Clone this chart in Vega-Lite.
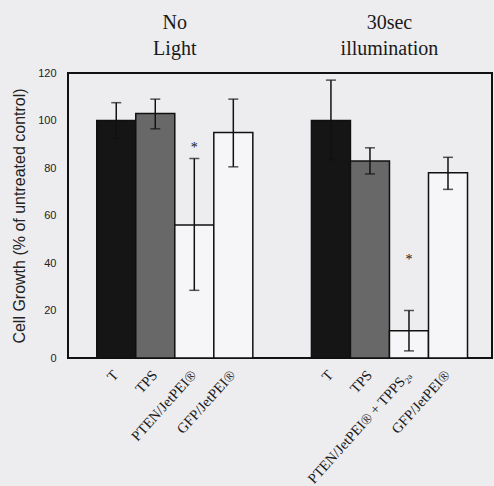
{
  "$schema": "https://vega.github.io/schema/vega-lite/v6.json",
  "width": 424,
  "height": 285,
  "autosize": {"type": "none"},
  "padding": {"left": 68, "top": 73, "right": 2, "bottom": 128},
  "background": "#ededf0",
  "data": {
    "values": [
      {"group": "No Light", "bar": "T", "label": "T", "value": 100, "lo": 92.5, "hi": 107.5, "star": null},
      {"group": "No Light", "bar": "TPS", "label": "TPS", "value": 103, "lo": 96.5, "hi": 109, "star": null},
      {"group": "No Light", "bar": "PTEN", "label": "PTEN/JetPEI®", "value": 56, "lo": 28.5, "hi": 84, "star": 90},
      {"group": "No Light", "bar": "GFP", "label": "GFP/JetPEI®", "value": 95, "lo": 80.5, "hi": 109, "star": null},
      {"group": "30sec illumination", "bar": "T", "label": "T", "value": 100, "lo": 83.5, "hi": 117, "star": null},
      {"group": "30sec illumination", "bar": "TPS", "label": "TPS", "value": 83, "lo": 77.5, "hi": 88.5, "star": null},
      {"group": "30sec illumination", "bar": "PTEN", "label": "PTEN/JetPEI® + TPPS₂ₐ", "value": 11.5, "lo": 3, "hi": 20, "star": 43},
      {"group": "30sec illumination", "bar": "GFP", "label": "GFP/JetPEI®", "value": 78, "lo": 71, "hi": 84.5, "star": null}
    ]
  },
  "encoding": {
    "x": {
      "field": "group",
      "type": "nominal",
      "sort": ["No Light", "30sec illumination"],
      "scale": {"type": "band", "paddingInner": 0.273, "paddingOuter": 0.124, "align": 0.54},
      "axis": {
        "orient": "top",
        "title": null,
        "domain": false,
        "ticks": false,
        "labelAngle": 0,
        "labelFont": "Liberation Serif",
        "labelFontSize": 20,
        "labelColor": "#1a1a1a",
        "labelLineHeight": 26,
        "labelPadding": 41,
        "labelExpr": "datum.label == 'No Light' ? ['No', 'Light'] : ['30sec', 'illumination']"
      }
    },
    "xOffset": {
      "field": "bar",
      "type": "nominal",
      "sort": ["T", "TPS", "PTEN", "GFP"],
      "scale": {"paddingInner": 0, "paddingOuter": 0}
    }
  },
  "layer": [
    {
      "mark": {"type": "bar", "stroke": "#111", "strokeWidth": 1.5},
      "encoding": {
        "y": {
          "field": "value",
          "type": "quantitative",
          "scale": {"domain": [0, 120], "nice": false},
          "axis": {
            "values": [0, 20, 40, 60, 80, 100, 120],
            "grid": false,
            "domain": false,
            "ticks": false,
            "labelFont": "Liberation Sans",
            "labelFontSize": 11,
            "labelColor": "#222",
            "labelPadding": 12,
            "title": "Cell Growth (% of untreated control)",
            "titleFont": "Liberation Sans",
            "titleFontSize": 16,
            "titleFontWeight": "normal",
            "titleColor": "#222",
            "titlePadding": 10
          }
        },
        "color": {
          "field": "bar",
          "type": "nominal",
          "scale": {"domain": ["T", "TPS", "PTEN", "GFP"], "range": ["#151515", "#686868", "#f6f6f8", "#f6f6f8"]},
          "legend": null
        }
      }
    },
    {
      "mark": {"type": "rule", "color": "#111", "strokeWidth": 1.5},
      "encoding": {
        "y": {"field": "lo", "type": "quantitative"},
        "y2": {"field": "hi"}
      }
    },
    {
      "mark": {"type": "tick", "color": "#111", "size": 10, "thickness": 1.5, "orient": "horizontal"},
      "encoding": {"y": {"field": "lo", "type": "quantitative"}}
    },
    {
      "mark": {"type": "tick", "color": "#111", "size": 10, "thickness": 1.5, "orient": "horizontal"},
      "encoding": {"y": {"field": "hi", "type": "quantitative"}}
    },
    {
      "transform": [{"filter": "datum.star != null"}],
      "mark": {"type": "text", "font": "Liberation Serif", "fontSize": 14, "color": "#111", "baseline": "middle", "dy": 4},
      "encoding": {
        "y": {"field": "star", "type": "quantitative"},
        "text": {"value": "*"}
      }
    },
    {
      "mark": {"type": "text", "font": "Liberation Serif", "fontSize": 14.5, "color": "#1a1a1a", "angle": -48, "align": "right", "baseline": "middle", "yOffset": 15},
      "encoding": {
        "y": {"datum": 0},
        "text": {"field": "label"}
      }
    }
  ],
  "config": {
    "view": {"stroke": "#111", "strokeWidth": 2}
  }
}
